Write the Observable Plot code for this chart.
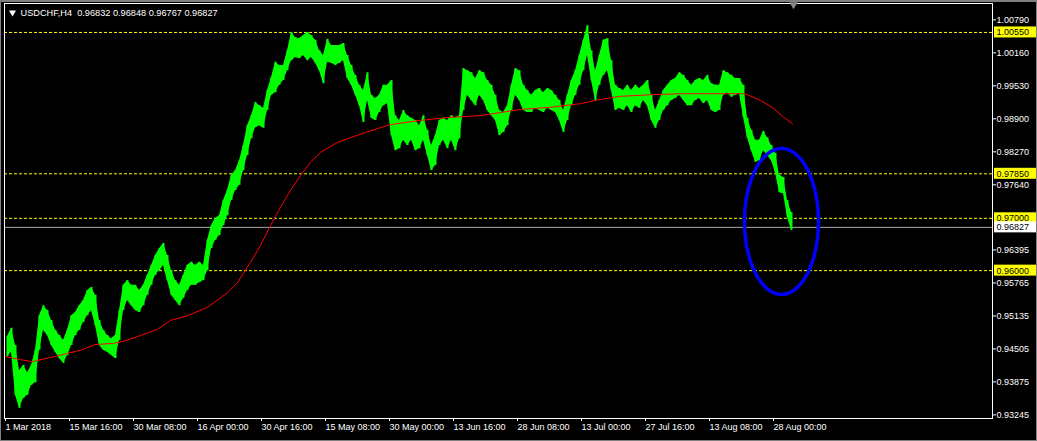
<!DOCTYPE html>
<html>
<head>
<meta charset="utf-8">
<script src="https://cdn.jsdelivr.net/npm/d3@7"></script>
<script src="https://cdn.jsdelivr.net/npm/@observablehq/plot@0.6"></script>
<style>
  html, body { margin: 0; padding: 0; background: #000; }
  #wrap { position: relative; width: 1037px; height: 441px; overflow: hidden; }
  #border { position: absolute; left: 0; top: 0; width: 1037px; height: 441px; box-sizing: border-box;
            border: 1px solid #808080; border-top-width: 2px; pointer-events: none; }
</style>
</head>
<body>
<div id="wrap"><div id="chart"></div><div id="border"></div></div>
<script>
// ---- data (USDCHF, H4) ----
const symbol = "USDCHF,H4";
const ohlcLast = ["0.96832", "0.96848", "0.96767", "0.96827"];
const barStep = 4; // each entry summarises 4 consecutive H4 bars
const highs = [
.9474,.9490,.9457,.9409,.9419,.9405,.9419,.9448,.9514,.9533,.9524,.9505,.9486,.9476,.9467,.9486,.9514,.9520,.9533,.9543,
.9562,.9568,.9553,.9505,.9486,.9476,.9470,.9476,.9524,.9572,.9581,.9572,.9572,.9562,.9572,.9591,.9610,.9629,.9642,.9652,
.9629,.9600,.9581,.9572,.9591,.9610,.9616,.9610,.9616,.9610,.9658,.9686,.9700,.9705,.9734,.9753,.9782,.9791,.9810,.9839,
.9877,.9896,.9921,.9915,.9910,.9944,.9969,.9998,.9992,.9992,1.0020,1.0055,1.0045,1.0043,1.0049,1.0055,1.0049,1.0040,1.0020,1.0011,
1.0042,1.0030,1.0030,1.0030,1.0034,1.0011,.9992,.9973,.9954,.9944,.9978,.9935,.9929,.9935,.9954,.9954,.9963,.9896,.9887,.9906,
.9896,.9891,.9887,.9877,.9896,.9868,.9839,.9858,.9887,.9891,.9887,.9896,.9891,.9896,.9986,.9982,.9978,.9967,.9982,.9978,
.9963,.9954,.9935,.9906,.9902,.9915,.9954,.9986,.9982,.9954,.9944,.9935,.9944,.9948,.9940,.9948,.9944,.9935,.9925,.9906,
.9935,.9963,.9982,1.0011,1.0040,1.0068,1.0020,.9982,1.0011,1.0040,1.0043,1.0001,.9954,.9948,.9944,.9954,.9944,.9954,.9948,.9954,
.9963,.9935,.9906,.9925,.9944,.9954,.9963,.9967,.9978,.9973,.9963,.9954,.9963,.9967,.9963,.9973,.9957,.9954,.9954,.9982,
.9978,.9973,.9967,.9967,.9954,.9891,.9868,.9849,.9849,.9866,.9854,.9839,.9824,.9782,.9778,.9734,.9711];
const lows = [
.9436,.9444,.9362,.9337,.9356,.9362,.9381,.9386,.9448,.9486,.9476,.9457,.9444,.9432,.9423,.9438,.9457,.9476,.9486,.9501,
.9514,.9524,.9495,.9457,.9448,.9444,.9438,.9432,.9467,.9524,.9543,.9533,.9524,.9520,.9533,.9553,.9572,.9591,.9600,.9610,
.9581,.9553,.9543,.9533,.9547,.9562,.9572,.9572,.9577,.9581,.9600,.9642,.9658,.9667,.9686,.9705,.9734,.9753,.9763,.9791,
.9820,.9852,.9873,.9877,.9872,.9906,.9935,.9940,.9954,.9963,.9982,1.0001,1.0007,1.0005,1.0011,1.0001,1.0007,.9996,.9982,.9957,
.9998,.9996,.9992,.9996,1.0001,.9967,.9954,.9935,.9915,.9883,.9925,.9891,.9887,.9902,.9915,.9919,.9858,.9829,.9833,.9849,
.9839,.9849,.9829,.9833,.9849,.9820,.9791,.9801,.9839,.9849,.9833,.9849,.9829,.9852,.9906,.9935,.9925,.9915,.9935,.9925,
.9906,.9896,.9887,.9858,.9864,.9877,.9906,.9935,.9925,.9906,.9902,.9902,.9910,.9906,.9902,.9910,.9906,.9902,.9887,.9864,
.9887,.9915,.9935,.9954,.9982,1.0011,.9963,.9925,.9954,.9973,.9982,.9944,.9906,.9910,.9906,.9915,.9902,.9915,.9910,.9925,
.9915,.9887,.9872,.9887,.9906,.9915,.9925,.9929,.9935,.9925,.9915,.9915,.9925,.9929,.9919,.9925,.9906,.9902,.9906,.9935,
.9940,.9931,.9935,.9938,.9893,.9854,.9829,.9807,.9810,.9829,.9820,.9810,.9787,.9749,.9747,.9702,.9677];
// moving average (bar index, value)
const maBars = [0,15,27,35,45,62,75,90,108,118,135,152,165,182,202,222,232,245,255,265,275,285,295,305,315,330,342,360,385,415,445,475,495,515,545,575,595,615,645,675,700,737,742,755,768,778,787];
const maValues = [.9436,.9430,.9426,.9430,.9434,.9442,.9448,.9459,.9461,.9465,.9476,.9488,.9505,.9514,.9530,.9558,.9577,.9616,.9648,.9686,.9721,.9753,.9782,.9807,.9826,.9843,.9852,.9864,.9879,.9887,.9893,.9896,.9902,.9908,.9912,.9919,.9927,.9933,.9936,.9938,.9938,.9938,.9936,.9925,.9910,.9893,.9881];
// horizontal levels
const levels = [1.00550, 0.97850, 0.97000, 0.96000];
const currentPrice = 0.96827;
// axis ticks
const priceTicks = [1.00790, 1.00160, 0.99530, 0.98900, 0.98270, 0.97640, 0.96395, 0.95765, 0.95135, 0.94505, 0.93875, 0.93245];
const timeTickBars = [0, 64, 128, 192, 256, 320, 384, 448, 512, 576, 640, 704, 768];
const timeTickLabels = ["1 Mar 2018", "15 Mar 16:00", "30 Mar 08:00", "16 Apr 00:00", "30 Apr 16:00", "15 May 08:00",
  "30 May 00:00", "13 Jun 16:00", "28 Jun 08:00", "13 Jul 00:00", "27 Jul 16:00", "13 Aug 08:00", "28 Aug 00:00"];
// annotation ellipse (bar index / price units)
const ellipseCenterBar = 776, ellipseCenterPrice = 0.9694, ellipseBarRadius = 37, ellipsePriceRadius = 0.01394;
const lastBar = 788;

// ---- build ----
const xDomain = [-1, 987];
const yDomain = [0.93176, 1.01103];
const bars = highs.map((h, i) => ({b: i * barStep + barStep / 2, hi: h, lo: lows[i]}));
const ma = maBars.map((b, i) => ({bar: b, v: maValues[i]}));
const ellipse = d3.range(0, 361, 3).map(a => {
  const t = a * Math.PI / 180;
  return {bar: ellipseCenterBar + ellipseBarRadius * Math.cos(t), p: ellipseCenterPrice + ellipsePriceRadius * Math.sin(t)};
});
const title = "USDCHF,H4\u00a0\u00a0" + ohlcLast.join(" ");
const xMax = xDomain[1];

const chart = Plot.plot({
  width: 1037, height: 441,
  marginLeft: 4, marginRight: 45, marginTop: 3, marginBottom: 23,
  x: {domain: xDomain, axis: null},
  y: {domain: yDomain, axis: null},
  style: {background: "#000", fontFamily: "'Liberation Sans', Arial, sans-serif", fontSize: "9px", color: "#fff"},
  marks: [
    Plot.ruleY(levels, {stroke: "#ffff00", strokeDasharray: "3,2", strokeWidth: 1}),
    Plot.ruleY([currentPrice], {stroke: "#a8a8a8", strokeWidth: 1}),
    Plot.areaY(bars, {x: "b", y1: "lo", y2: "hi", fill: "#00ff00", curve: "linear"}),
    Plot.ruleX(bars, {x: "b", y1: "lo", y2: "hi", stroke: "#00ff00", strokeWidth: 2}),
    Plot.line(ma, {x: "bar", y: "v", stroke: "#ff0000", strokeWidth: 1}),
    Plot.line(ellipse, {x: "bar", y: "p", stroke: "#0000ff", strokeWidth: 3.5}),
    Plot.frame({stroke: "#fff"}),
    Plot.axisY({anchor: "right", ticks: priceTicks, tickFormat: d => d.toFixed(5), tickSize: 3, tickPadding: 1,
      color: "#fff", label: null, fontSize: 9}),
    Plot.axisX({anchor: "bottom", ticks: timeTickBars, tickFormat: d => timeTickLabels[timeTickBars.indexOf(d)],
      textAnchor: "start", tickSize: 3, tickPadding: 2, color: "#fff", label: null, fontSize: 9}),
    Plot.rect(levels, {x1: () => xMax, x2: () => xMax, y1: d => d, y2: d => d,
      insetLeft: 2, insetRight: -45, insetTop: -5.5, insetBottom: -5.5, fill: "#ffff00"}),
    Plot.rect([currentPrice], {x1: () => xMax, x2: () => xMax, y1: d => d, y2: d => d,
      insetLeft: 2, insetRight: -45, insetTop: -5.5, insetBottom: -5.5, fill: "#fff"}),
    Plot.text(levels.concat([currentPrice]), {x: () => xMax, y: d => d, text: d => d.toFixed(5), dx: 4,
      textAnchor: "start", fill: "#000", fontSize: 9}),
    Plot.dot([lastBar], {x: d => d, y: () => yDomain[1], symbol: "triangle", rotate: 180, r: 3, fill: "#8a8a8a", dy: 1}),
    Plot.dot([symbol], {frameAnchor: "top-left", dx: 8, dy: 9, symbol: "triangle", rotate: 180, r: 2.6, fill: "#fff"}),
    Plot.text([title], {frameAnchor: "top-left", dx: 16, dy: 10, lineAnchor: "middle", textAnchor: "start",
      fill: "#fff", fontSize: 9.2})
  ]
});
document.getElementById("chart").appendChild(chart);
</script>
</body>
</html>
